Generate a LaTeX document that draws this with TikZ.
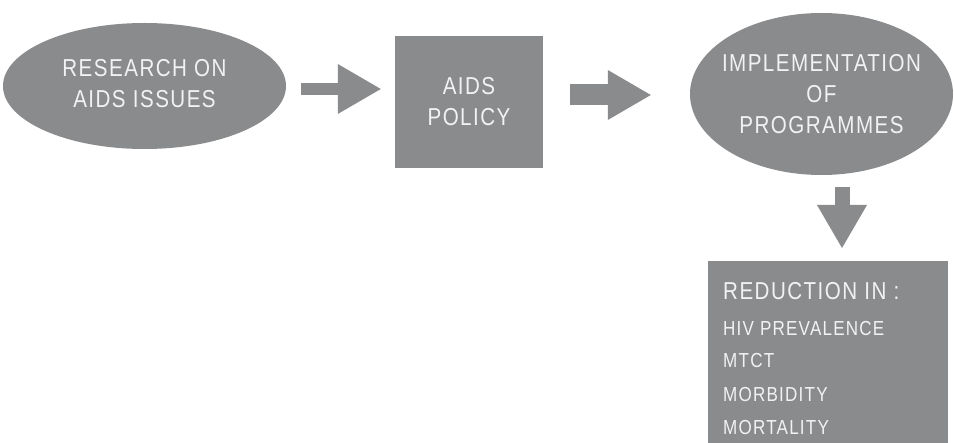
\documentclass[tikz,border=0pt]{standalone}
\usepackage{fontspec}
\setmainfont{Liberation Sans}[FakeStretch=0.84, LetterSpace=6]
\usetikzlibrary{shapes.geometric,arrows.meta,positioning}
\definecolor{boxgray}{RGB}{138,139,141}
\definecolor{textwhite}{RGB}{242,242,242}

\begin{document}
\begin{tikzpicture}[x=1pt, y=-1pt,
                    every node/.style={fill=boxgray, text=textwhite,
                                  inner sep=0pt, align=center,
                                  font=\fontsize{24.5}{31}\selectfont},
                    oval/.style={ellipse, inner xsep=-30pt},
                    box/.style={rectangle},
                    listline/.style={fill=none, anchor=base west},
                    bigarrow/.style={draw=boxgray,
                                  -{Triangle[width=50pt,length=43pt,line width=0pt]}}]
                      \useasboundingbox (0,0) rectangle (954,443);

                      \node[oval, minimum width=283pt, minimum height=126pt] (research) at (144.5,86) {RESEARCH ON\\AIDS ISSUES\rule[-6pt]{0pt}{1pt}};
                      \node[box, minimum width=148pt, minimum height=132pt] (policy) at (469,102) {AIDS\\POLICY};
                      \node[oval, minimum width=263pt, minimum height=162pt] (impl) at (821.5,94) {IMPLEMENTATION\\OF\\PROGRAMMES};
                      \node[box, minimum width=240pt, minimum height=182pt, anchor=north west] (reduction) at (708,261) {};

                      \node[listline] (title) at (723,300) {REDUCTION IN :};
                      \foreach \y/\txt [count=\i] in {336/HIV PREVALENCE, 368/MTCT,
                              402/MORBIDITY, 435/MORTALITY} {
                              \node[listline, font=\fontsize{20.3}{24}\selectfont] (item\i) at (723,\y) {\txt};
                          }

                      \draw[bigarrow, line width=12pt] ([xshift=15pt,yshift=-3pt]research.east) -- ([xshift=-14pt,yshift=-3pt]research.east -| policy.west);
                      \draw[bigarrow, line width=21pt] ([xshift=27pt,yshift=7pt]policy.east) -- ([xshift=-39pt,yshift=7pt]policy.east -| impl.west);
                      \draw[bigarrow, line width=15pt] ([xshift=20.5pt,yshift=-12pt]impl.south) -- ([xshift=20.5pt,yshift=13pt]impl.south |- reduction.north);
                  \end{tikzpicture}
\end{document}
